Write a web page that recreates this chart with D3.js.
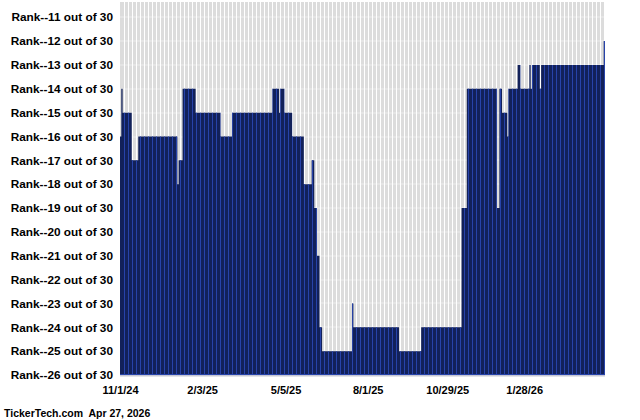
<!DOCTYPE html>
<html>
<head>
<meta charset="utf-8">
<script src="https://cdn.jsdelivr.net/npm/d3@7"></script>
<style>
  html, body { margin: 0; padding: 0; background: #ffffff; }
  svg { display: block; }
  text { font-family: "Liberation Sans", Arial, sans-serif; font-weight: bold; fill: #000; white-space: pre; }
</style>
</head>
<body>
<svg id="chart" width="640" height="420"></svg>
<script>
// ---- data ----
// daily rank, stored as runs: rank value and number of trading days it held
const runRanks = [16,14,15,17,16,18,17,14,15,16,15,14,15,14,15,16,18,17,19,21,24,25,23,24,25,24,19,14,19,14,15,16,14,13,14,13,14,13,14,13,12];
const runDays  = [1,1,7,5,30,1,3,10,19,9,31,5,1,3,6,9,6,2,2,2,2,23,1,35,17,31,4,23,2,2,4,1,7,2,7,1,1,6,1,48,1];
const rankTicks = [11,12,13,14,15,16,17,18,19,20,21,22,23,24,25,26];
const dateLabels = ["11/1/24","2/3/25","5/5/25","8/1/25","10/29/25","1/28/26"];
const dateIndex  = [0,63,127,190,251,310];
const footerText = "TickerTech.com  Apr 27, 2026";

(function () {
  // decode runs into a daily series
  const days = [];
  runRanks.forEach((r, j) => { for (let k = 0; k < runDays[j]; k++) days.push(r); });
  const N = days.length;

  const svg = d3.select("#chart");
  const pL = 120, pR = 605, pT = 2, pB = 375;

  const x = d3.scaleLinear().domain([0, N]).range([pL, pR]);
  const y = d3.scaleLinear().domain([26, 11]).range([pB, 17.25]);

  const navy = "#12215a", stripeBlue = "#2743aa", grey = "#dcdcdc";

  // background
  svg.append("rect").attr("x", pL).attr("y", pT).attr("width", pR - pL).attr("height", pB - pT).attr("fill", grey);

  // horizontal grid lines
  svg.append("g").selectAll("rect").data(rankTicks.slice(0, -1)).join("rect")
    .attr("x", pL).attr("width", pR - pL)
    .attr("y", d => Math.round(y(d)) - 0.5).attr("height", 1)
    .attr("fill", "#ebebeb");

  // vertical stripes (texture)
  const stripeX = d3.range(pL + 4, pR, 4);
  svg.append("g").selectAll("rect").data(stripeX).join("rect")
    .attr("x", d => d).attr("width", 1).attr("y", pT).attr("height", pB - pT)
    .attr("fill", "#ffffff").attr("shape-rendering", "crispEdges");

  // area (step)
  const area = d3.area()
    .x((d, i) => x(i))
    .y0(y(26))
    .y1(d => y(d))
    .curve(d3.curveStepAfter);
  const areaData = days.concat([days[N - 1]]);
  const pathD = area(areaData);

  svg.append("clipPath").attr("id", "areaClip").append("path").attr("d", pathD);
  svg.append("path").attr("d", pathD).attr("fill", navy);

  // blue stripes over the area
  svg.append("g").attr("clip-path", "url(#areaClip)")
    .selectAll("rect").data(stripeX).join("rect")
    .attr("x", d => d).attr("width", 1).attr("y", pT).attr("height", pB - pT)
    .attr("fill", stripeBlue).attr("shape-rendering", "crispEdges");

  // bottom lines
  svg.append("rect").attr("x", pL).attr("y", pB - 1).attr("width", pR - pL).attr("height", 1).attr("fill", stripeBlue);
  svg.append("rect").attr("x", pL).attr("y", pB).attr("width", pR - pL).attr("height", 1.5).attr("fill", "#c8c8d4");

  // y labels
  svg.append("g").selectAll("text").data(rankTicks).join("text")
    .attr("x", 113).attr("y", d => y(d)).attr("dy", "0.36em")
    .attr("text-anchor", "end").style("font-size", "11.8px")
    .text(d => "Rank--" + d + " out of 30");

  // x labels
  svg.append("g").selectAll("text").data(dateLabels).join("text")
    .attr("x", (d, i) => x(dateIndex[i]) + 0.5).attr("y", 394)
    .attr("text-anchor", "middle").style("font-size", "11px")
    .text(d => d);

  // footer
  svg.append("text").attr("x", 4).attr("y", 417).style("font-size", "10.5px").text(footerText);
})();
</script>
</body>
</html>
